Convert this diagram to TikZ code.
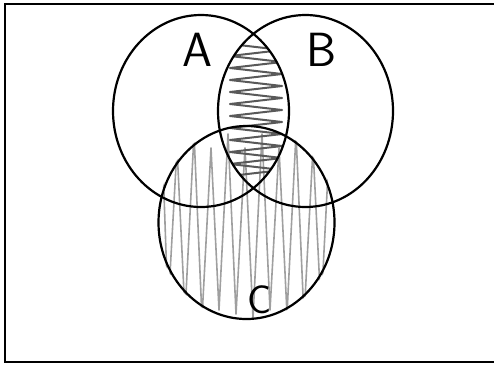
\documentclass[tikz,border=0pt]{standalone}
\usetikzlibrary{calc,shapes.geometric}
\tikzset{
  outline/.style={line width=2.2pt, black},
  lensink/.style={line width=2pt, gray!70!black, line join=round},
  cink/.style={line width=1.6pt, gray!75, line join=round},
  lbl/.style={font=\sffamily, inner sep=0pt}
}
\begin{document}
\begin{tikzpicture}[x=1pt,y=-1pt]
\useasboundingbox (0,0) rectangle (494,365);
% frame (right side cut off by the picture edge)
\draw[line width=2.4pt] (497,4) -- (5,4) -- (5,362) -- (497,362);
\coordinate (ca) at (201,111);
\coordinate (cb) at (305.5,111);
\coordinate (cc) at (246.5,222.5);
% C scribble
\begin{scope}
  \clip (cc) ellipse [x radius=90, y radius=98];
  \draw[cink] (163,165) \foreach \i in {0,...,9} { -- ({168+17*\i},{310+mod(\i,3)*4}) -- ({177+17*\i},{148-mod(\i,2)*14}) };
\end{scope}
% A and B lens scribble
\begin{scope}
  \clip (ca) ellipse [x radius=88, y radius=96];
  \clip (cb) ellipse [x radius=87.5, y radius=96];
  \draw[lensink] (230,44) \foreach \i in {1,...,11} { -- (282,{44+12*\i-6}) -- (230,{44+12*\i}) };
\end{scope}
% circles
\node[outline, draw, ellipse, minimum width=176pt, minimum height=192pt, inner sep=0pt] (A) at (ca) {};
\node[outline, draw, ellipse, minimum width=175pt, minimum height=192pt, inner sep=0pt] (B) at (cb) {};
\node[outline, draw, ellipse, minimum width=176pt, minimum height=193pt, inner sep=0pt] (C) at (cc) {};
% labels
\node[lbl, font=\sffamily\fontsize{48}{48}\selectfont] (la) at (197,50) {A};
\node[lbl, font=\sffamily\fontsize{48}{48}\selectfont] (lb) at (322,50) {B};
\node[lbl, font=\sffamily\fontsize{40}{40}\selectfont] (lc) at (260,300) {C};
\end{tikzpicture}
\end{document}
